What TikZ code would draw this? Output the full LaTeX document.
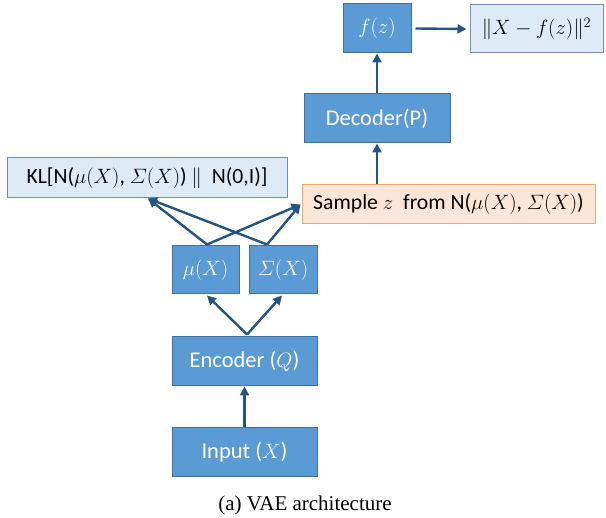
\documentclass[tikz,border=0pt]{standalone}
\usepackage{amsmath}
\usepackage{fontspec}
\setmainfont{Carlito}
\newfontfamily\capfont{Liberation Serif}
\usetikzlibrary{arrows.meta,calc}
\definecolor{boxblue}{HTML}{5B9BD5}
\definecolor{boxedge}{HTML}{41719C}
\definecolor{lightfill}{HTML}{DEEBF7}
\definecolor{lightedge}{HTML}{6F8FB5}
\definecolor{orfill}{HTML}{FBE5D6}
\definecolor{oredge}{HTML}{F4A56E}
\definecolor{arrowc}{HTML}{245582}
\tikzset{
  bluebox/.style={draw=boxedge, line width=1pt, fill=boxblue, text=white, inner sep=0pt, font=\fontsize{22.5}{26}\selectfont},
  lightbox/.style={draw=lightedge, line width=1pt, fill=lightfill, text=black, inner sep=0pt, font=\fontsize{21.7}{25}\selectfont},
  orbox/.style={draw=oredge, line width=1pt, fill=orfill, text=black, inner sep=0pt, font=\fontsize{21.7}{25}\selectfont},
  conn/.style={draw=arrowc, line width=2.4pt, -{Triangle[length=9pt,width=9pt]}},
}
\newcommand{\Sig}{\varSigma}
\begin{document}
\begin{tikzpicture}[x=1pt,y=-1pt]
\useasboundingbox (0,0) rectangle (606,518);
\node[bluebox, minimum width=68pt, minimum height=49pt] (fz) at (377,28.5) {$f(z)$};
\node[lightbox, minimum width=133pt, minimum height=48pt] (loss) at (536.5,29) {$\Vert X-f(z)\Vert^2$};
\node[bluebox, minimum width=146pt, minimum height=49pt] (dec) at (377,118.5) {Decoder(P)};
\node[lightbox, minimum width=280pt, minimum height=40pt] (kl) at (147,178) {KL[N($\mu(X)$, $\Sig(X)$) $\Vert$\ \ N(0,I)]};
\node[orbox, minimum width=293pt, minimum height=39pt] (samp) at (448.5,204.5) {Sample $z$\ \ from N($\mu(X)$, $\Sig(X)$)};
\node[bluebox, minimum width=67pt, minimum height=48pt] (mu) at (205.5,270) {$\mu(X)$};
\node[bluebox, minimum width=68pt, minimum height=48pt] (sig) at (283,270) {$\Sig(X)$};
\node[bluebox, minimum width=145pt, minimum height=49pt] (enc) at (244.5,361.5) {Encoder ($Q$)};
\node[bluebox, minimum width=145pt, minimum height=49pt] (inp) at (244.5,452.5) {Input ($X$)};
\node[font=\capfont\fontsize{21}{25}\selectfont] (cap) at (305,505) {(a) VAE architecture};
% coordinates for arrow ends
\coordinate (encT) at ($(enc.north)+(2.5,-2)$);
\coordinate (muT) at ($(mu.north)+(1.5,-1)$);
\coordinate (sigT) at ($(sig.north)+(-16,-1)$);
\coordinate (klB) at ($(kl.south)+(1,0)$);
\coordinate (sampL) at ($(samp.west)+(-1,0)$);
\draw[conn] (inp.north) -- (enc.south);
\draw[conn] (encT) -- ($(mu.south)+(1.5,1)$);
\draw[conn] (encT) -- ($(sig.south)+(-1,1)$);
\draw[conn] (muT) -- (klB);
\draw[conn] (muT) -- (sampL);
\draw[conn] (sigT) -- (klB);
\draw[conn] (sigT) -- (sampL);
\draw[conn] (dec.south |- samp.north) -- (dec.south);
\draw[conn] (dec.north) -- (fz.south);
\draw[conn] ($(fz.east)+(4,0)$) -- ($(loss.west)+(-3,0)$);
\end{tikzpicture}
\end{document}
